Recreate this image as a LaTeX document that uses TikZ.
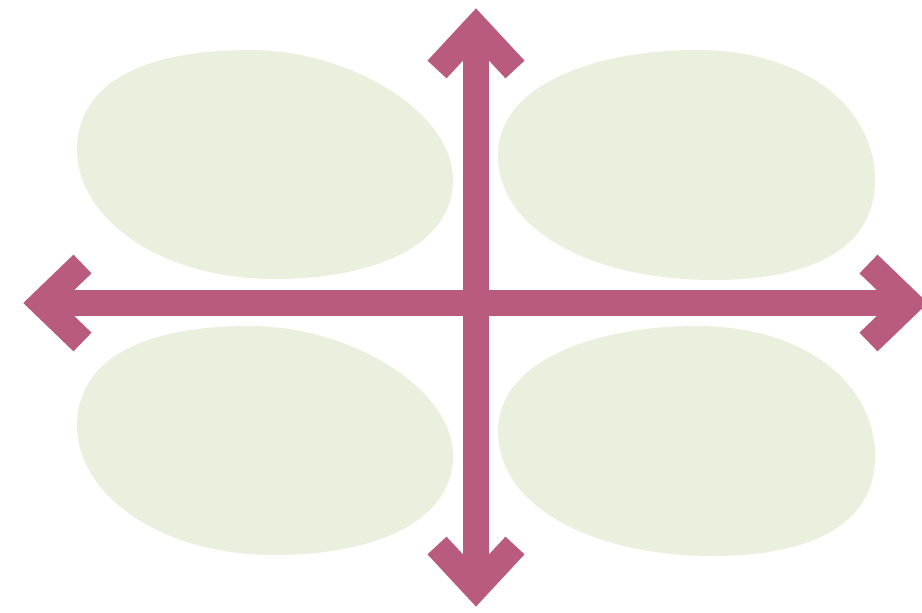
\documentclass[tikz,border=0pt]{standalone}
\usetikzlibrary{calc}
\definecolor{arrowpink}{RGB}{185,91,126}
\definecolor{blobgreen}{RGB}{233,240,221}
\tikzset{
  blob/.style={fill=blobgreen, draw=none},
  bar/.style={draw=arrowpink, line width=26pt, line cap=butt, line join=miter},
}
\newcommand{\blobApath}{(77,150) .. controls (77,82) and (145,50) .. (250,50)
  .. controls (350,50) and (453,112) .. (453,180)
  .. controls (453,245) and (375,279) .. (275,279)
  .. controls (155,279) and (77,215) .. (77,150) -- cycle}
\newcommand{\blobBpath}{(498,155) .. controls (498,85) and (595,50) .. (697,50)
  .. controls (805,50) and (875,108) .. (875,180)
  .. controls (875,252) and (805,280) .. (713,280)
  .. controls (595,280) and (498,232) .. (498,155) -- cycle}
\begin{document}
\begin{tikzpicture}[x=1pt,y=-1pt]
\useasboundingbox (0,0) rectangle (922,613);
% blob shapes
\fill[blob] \blobApath;
\fill[blob] \blobBpath;
\begin{scope}[yshift=-276pt]
\fill[blob] \blobApath;
\fill[blob] \blobBpath;
\end{scope}
% arrows
\coordinate (top) at (476,27.5);
\coordinate (bot) at (476,587.5);
\coordinate (lft) at (42,303);
\coordinate (rgt) at (909,303);
\draw[bar] (top) -- (bot);
\draw[bar] (lft) -- (rgt);
\draw[bar] ($(top)+(-39,42)$) -- (top) -- ($(top)+(39,42)$);
\draw[bar] ($(bot)+(-39,-42)$) -- (bot) -- ($(bot)+(39,-42)$);
\draw[bar] ($(lft)+(40.5,-39)$) -- (lft) -- ($(lft)+(40.5,39)$);
\draw[bar] ($(rgt)+(-40.5,-39)$) -- (rgt) -- ($(rgt)+(-40.5,39)$);
\end{tikzpicture}
\end{document}
